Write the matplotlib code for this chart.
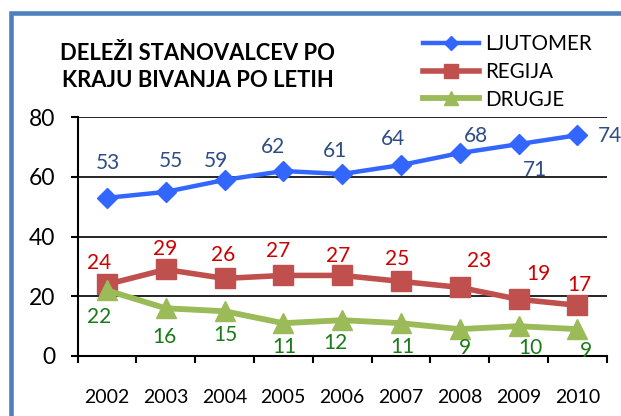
import numpy as np
import matplotlib.pyplot as plt
from matplotlib.patches import Rectangle

plt.rcParams['font.family'] = ['Lato', 'DejaVu Sans']

# data
years = ['2002', '2003', '2004', '2005', '2006', '2007', '2008', '2009', '2010']
ljutomer = [53, 55, 59, 62, 61, 64, 68, 71, 74]
regija = [24, 29, 26, 27, 27, 25, 23, 19, 17]
drugje = [22, 16, 15, 11, 12, 11, 9, 10, 9]

# where each data label sits relative to its point (pixels, dx / dy)
off_lj = [(1, 35), (5, 31), (-9, 19), (-10, 24), (-7, 23), (-8, 26), (16, 17), (17, -26), (33, -1)]
off_re = [(-8, 21), (-1, 20), (-1, 23), (-5, 24), (-4, 19), (-4, 22), (19, 26), (20, 25), (2, 20)]
off_dr = [(-8, -27), (-1, -29), (1, -24), (1, -24), (-7, -23), (1, -24), (5, -19), (12, -22), (9, -22)]

W, H = 621, 416
fig = plt.figure(figsize=(W / 100, H / 100), dpi=100)
ax = fig.add_axes([77.5 / W, 1 - 356 / H, (606.7 - 77.5) / W, (356 - 117.3) / H])

x = np.arange(len(years))

series = [
    ('LJUTOMER', ljutomer, '#3366FF', 'D', 10, 3.2, '#2E4D86', off_lj),
    ('REGIJA', regija, '#C0504D', 's', 14, 4.0, '#CC0000', off_re),
    ('DRUGJE', drugje, '#9BBB59', '^', 14, 4.2, '#1A7A1A', off_dr),
]

for name, vals, col, mk, ms, lw, lcol, offs in series:
    ax.plot(x, vals, color=col, marker=mk, markersize=ms, linewidth=lw,
            markeredgecolor=col, label=name, solid_joinstyle='round', zorder=3)
    for xi, v, (dx, dy) in zip(x, vals, offs):
        ax.annotate(str(v), (xi, v), xytext=(dx, dy), textcoords='offset pixels',
                    ha='center', va='center', fontsize=15, color=lcol, zorder=4)

ax.set_xlim(-0.5, len(years) - 0.5)
ax.set_ylim(0, 80)
ax.set_yticks([0, 20, 40, 60, 80])
ax.set_xticks(x)
ax.set_xticklabels(years)
ax.set_xticks(np.arange(-0.5, len(years)), minor=True)
ax.tick_params(axis='x', which='major', length=0, pad=24, labelsize=14)
ax.tick_params(axis='x', which='minor', length=5, width=1.5, direction='out')
ax.tick_params(axis='y', length=5, width=1.5, pad=11, labelsize=16.5)

ax.grid(axis='y', color='black', linewidth=1.2)
ax.set_axisbelow(True)
for s in ['top', 'right']:
    ax.spines[s].set_visible(False)
for s in ['left', 'bottom']:
    ax.spines[s].set_linewidth(1.5)

fig.text(198 / W, 1 - 67 / H, 'DELEŽI STANOVALCEV PO\nKRAJU BIVANJA PO LETIH',
         ha='center', va='center', fontsize=15.8, fontweight='bold', linespacing=1.3)

ax.legend(loc='center left', bbox_to_anchor=(423 / W, 1 - 71.7 / H),
          bbox_transform=fig.transFigure, frameon=False, fontsize=14.8,
          handlelength=2.7, handletextpad=0.3, labelspacing=0.38,
          borderpad=0, borderaxespad=0, markerscale=0.7)

# blue outer frame, cut off at the right and bottom
frame = Rectangle((10.5 / W, -0.2), 2, 1.2 - 13 / H, transform=fig.transFigure,
                  fill=False, edgecolor='#4F81BD', linewidth=3.3, clip_on=False)
fig.add_artist(frame)

fig.savefig('out.png', dpi=100)
